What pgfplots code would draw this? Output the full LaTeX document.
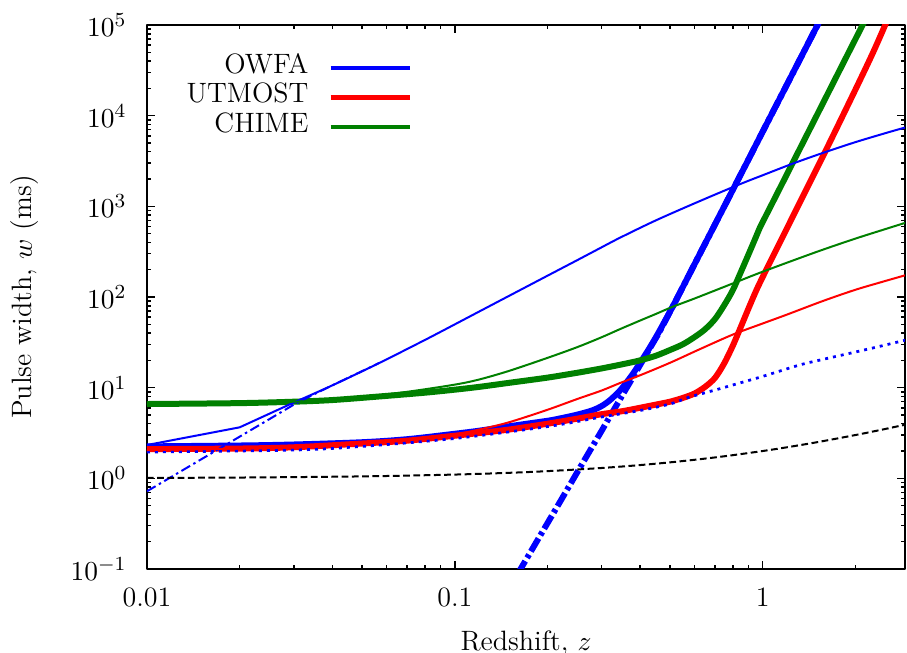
\documentclass[border=0pt]{standalone}
\usepackage{pgfplots}
\pgfplotsset{compat=1.18}
\definecolor{cgreen}{rgb}{0,0.5,0}
\begin{document}
\fontsize{11.2}{13.4}\selectfont
\begin{tikzpicture}
\begin{axis}[
    scale only axis,
    width=303.2pt, height=217.6pt,
    xmode=log, ymode=log,
    xmin=0.01, xmax=2.9,
    ymin=0.1, ymax=1e5,
    xtick={0.01,0.1,1},
    xticklabels={0.01,0.1,1},
    ytick={0.1,1,10,100,1000,10000,100000},
    minor xtick={0.02,0.03,0.04,0.05,0.06,0.07,0.08,0.09,0.2,0.3,0.4,0.5,0.6,0.7,0.8,0.9,2},
    minor ytick={0.2,0.3,0.4,0.5,0.6,0.7,0.8,0.9,2,3,4,5,6,7,8,9,20,30,40,50,60,70,80,90,200,300,400,500,600,700,800,900,2000,3000,4000,5000,6000,7000,8000,9000,20000,30000,40000,50000,60000,70000,80000,90000},
    tick align=inside,
    major tick length=3.3pt,
    minor tick length=1.7pt,
    axis line style={line width=0.8pt},
    every tick/.style={black, line width=0.6pt},
    xticklabel style={yshift=-3.5pt},
    yticklabel style={xshift=-4.3pt},
    xlabel={Redshift, $z$},
    ylabel={Pulse width, $w$ (ms)},
    xlabel style={at={(axis description cs:0.5,-0.149)}, anchor=base},
    ylabel style={at={(axis description cs:-0.161,0.5)}, anchor=center},
    legend plot pos=right,
    legend cell align=right,
    legend image code/.code={\draw[#1, line width=1.8pt] (0pt,0pt) -- (31.6pt,0pt);},
    legend style={draw=none, fill=none, inner sep=0pt, outer sep=0pt,
        at={(0.3496,0.9485)}, anchor=north east,
        column sep=8pt, row sep=0pt,
        nodes={inner sep=0pt, text height=8pt, text depth=3.8pt}},
    line join=round,
]
% OWFA
\addplot[blue, line width=2.4pt, smooth] coordinates {
(0.01,2.25)(0.02,2.3)(0.03,2.36)(0.05,2.5)(0.07,2.7)(0.1,3.1)(0.12,3.35)(0.15,3.75)
(0.2,4.31)(0.22,4.58)(0.25,5.04)(0.28,5.62)(0.3,6.27)(0.32,7.33)(0.343,9.2)(0.36,11.25)
(0.378,14.05)(0.4,18.8)(0.43,27.7)(0.46,41)(0.51,78)(0.55,128)(0.6,228)(0.7,630)
(0.8,1520)(0.9,3300)(1.0,6650)(1.2,22100)(1.4,61100)(1.5,96500)(1.6,147700)
};
\addlegendentry{OWFA}
\addplot[blue, line width=2.4pt, dash pattern=on 6pt off 1.5pt on 1.5pt off 1.5pt, forget plot] coordinates {
(0.16,0.088)(0.18,0.174)(0.2,0.32)(0.22,0.555)(0.25,1.17)(0.28,2.25)(0.3,3.35)(0.32,4.9)
(0.343,7.3)(0.36,9.7)(0.378,12.8)(0.4,17.8)(0.43,27.1)(0.46,40)(0.51,78)(0.55,128)
(0.6,228)(0.7,630)(0.8,1520)(0.9,3300)(1.0,6650)(1.2,22100)(1.4,61100)(1.5,96500)(1.6,147700)
};
% UTMOST
\addplot[red, line width=2.4pt, smooth] coordinates {
(0.01,2.1)(0.02,2.13)(0.03,2.2)(0.05,2.42)(0.07,2.6)(0.1,2.95)(0.12,3.16)(0.15,3.45)
(0.2,4.0)(0.25,4.55)(0.3,5.1)(0.35,5.5)(0.4,6.0)(0.45,6.5)(0.5,7.0)(0.55,7.7)(0.6,8.6)
(0.65,10.2)(0.7,12.8)(0.75,18.5)(0.8,29)(0.85,47)(0.9,75)(0.95,115)(1.0,166)(1.1,318)
(1.2,574)(1.4,1640)(1.6,4060)(2.0,19250)(2.3,52400)(2.6,136000)
};
\addlegendentry{UTMOST}
\addplot[blue, line width=1.1pt, dash pattern=on 1.2pt off 2pt, smooth, forget plot] coordinates {
(0.01,1.95)(0.03,2.05)(0.05,2.25)(0.1,2.75)(0.2,3.72)(0.3,4.75)(0.4,5.6)(0.5,6.6)
(0.55,7.4)(0.58,7.9)(0.7,9.4)(0.8,10.7)(1.0,13.3)(1.32,17.8)(1.6,20.8)(2.0,24.7)
(2.5,29.5)(2.93,33.6)(3,34.2)
};
% CHIME
\addplot[cgreen, line width=2.4pt, smooth] coordinates {
(0.01,6.6)(0.02,6.75)(0.03,7.0)(0.04,7.3)(0.057,8.0)(0.08,8.8)(0.1,9.5)(0.12,10.2)
(0.15,11.3)(0.2,12.9)(0.25,14.6)(0.3,16.3)(0.35,18.1)(0.4,20.0)(0.45,22.5)(0.5,26.0)
(0.55,30.0)(0.6,36)(0.65,44)(0.7,57)(0.75,81)(0.8,119)(0.85,189)(0.9,296)(0.95,455)
(0.978,575)(1.0,670)(1.1,1265)(1.25,2980)(1.5,10100)(1.8,34300)(2.0,69400)(2.2,131000)
};
\addlegendentry{CHIME}
% thin curves
\addplot[blue, line width=0.8pt, forget plot] coordinates {
(0.01,2.33)(0.02,3.65)(0.03,6.86)
};
\addplot[blue, line width=0.8pt, smooth, forget plot] coordinates {
(0.03,6.86)(0.04,10.6)(0.057,18.8)(0.08,33.6)(0.1,49.9)(0.12,69.1)(0.137,87.5)(0.2,171.6)
(0.25,255)(0.296,345)(0.343,448)(0.45,700)(0.624,1140)(0.842,1750)(1.0,2200)
(1.25,2950)(1.565,3870)(2.0,5100)(2.5,6400)(2.9,7400)(3.0,7650)
};
\addplot[blue, line width=0.8pt, dash pattern=on 4pt off 1.5pt on 1pt off 1.5pt, forget plot] coordinates {
(0.01,0.72)(0.015,1.62)(0.02,2.88)(0.025,4.5)(0.03,6.5)(0.035,8.5)(0.04,10.6)(0.057,18.8)
};
\addplot[red, line width=0.8pt, smooth, forget plot] coordinates {
(0.01,2.05)(0.03,2.2)(0.057,2.5)(0.08,2.75)(0.1,3.05)(0.12,3.45)(0.15,4.15)
(0.2,5.7)(0.25,7.5)(0.3,9.3)(0.343,11.2)(0.4,13.7)(0.5,18.8)(0.624,26.5)(0.8,38.5)
(1.0,51)(1.2,64)(1.565,90)(2.0,120)(2.5,150)(2.93,175)(3,179)
};
\addplot[cgreen, line width=0.8pt, smooth, forget plot] coordinates {
(0.01,6.6)(0.03,7.0)(0.05,7.9)(0.07,9.0)(0.1,10.8)(0.12,12.3)(0.15,15.3)(0.2,21.3)
(0.25,28)(0.3,36)(0.343,44)(0.4,55)(0.45,65)(0.51,78)(0.6,96)(0.8,141)(1.0,190)
(1.5,315)(2.0,440)(2.5,560)(3.0,680)
};
% intrinsic width
\addplot[black, line width=0.8pt, dash pattern=on 2.7pt off 1.4pt, smooth, forget plot] coordinates {
(0.01,1.01)(0.02,1.02)(0.05,1.05)(0.1,1.1)(0.15,1.15)(0.2,1.2)(0.3,1.3)(0.4,1.4)
(0.5,1.5)(0.6,1.6)(0.7,1.7)(0.8,1.8)(1,2)(1.2,2.2)(1.5,2.5)(2,3)(2.5,3.5)(3,4)
};
\end{axis}
\pgfresetboundingbox
\path[use as bounding box] ([shift={(-58.8pt,-33.6pt)}]current axis.south west)
    rectangle ([shift={(0.8pt,10pt)}]current axis.north east);
\end{tikzpicture}
\end{document}
